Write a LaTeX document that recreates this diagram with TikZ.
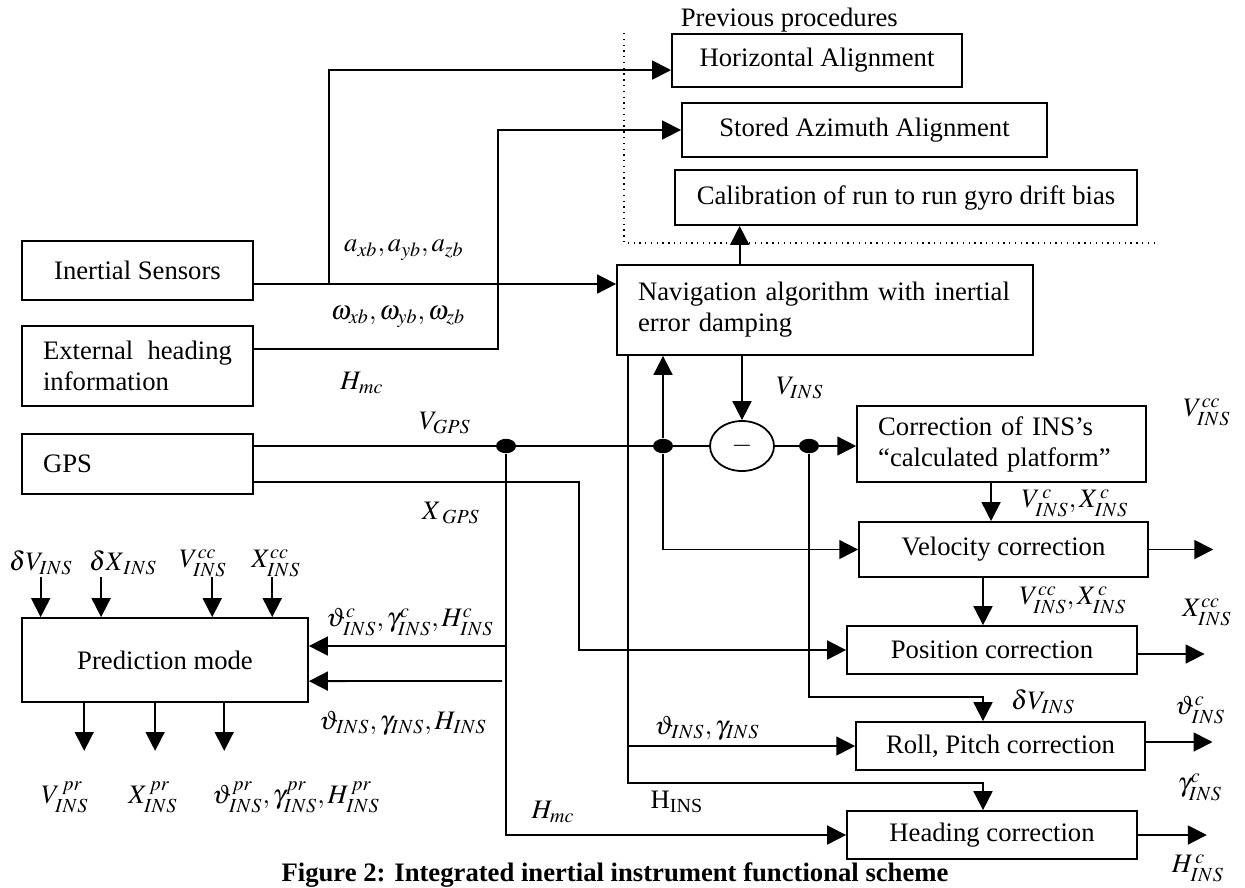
\documentclass[tikz,border=0pt]{standalone}
\usepackage{mathptmx}
\usepackage{fontspec}
\setmainfont{Liberation Serif}
\usetikzlibrary{arrows.meta,shapes.geometric}

\begin{document}
\begin{tikzpicture}[x=0.45pt,y=-0.45pt,
  every node/.style={font=\fontsize{12}{14}\selectfont},
  block/.style={draw,line width=0.8pt,inner sep=0pt,align=center},
  flow/.style={line width=0.8pt,-{Triangle[length=8.5pt,width=8.5pt]}},
  wire/.style={line width=0.8pt},
  dot/.style={ellipse,fill,minimum width=9pt,minimum height=6.5pt,inner sep=0pt}]
\useasboundingbox (0,0) rectangle (1245,887);

\node[block,minimum width=104pt,minimum height=26.6pt] (ins) at (137.5,270.5) {Inertial Sensors};
\node[block,minimum width=104pt,minimum height=36pt,text width=85pt,align=left] (ext) at (137.5,366) {External\hfill heading\\information};
\node[block,minimum width=104pt,minimum height=27pt,text width=85pt,align=left] (gps) at (137.5,464) {GPS};
\node[block,minimum width=128.7pt,minimum height=37.8pt] (pred) at (165,660) {Prediction mode};

\node[block,minimum width=130.5pt,minimum height=23.9pt] (ha) at (817,60.5) {Horizontal Alignment};
\node[block,minimum width=164.3pt,minimum height=24.3pt] (sa) at (864.5,130) {Stored Azimuth Alignment};
\node[block,minimum width=207.9pt,minimum height=24.8pt] (cal) at (906,197.5) {Calibration of run to run gyro drift bias};
\node[block,minimum width=187.2pt,minimum height=40.5pt,text width=168.2pt,align=left] (nav) at (825,310) {Navigation algorithm with inertial\\error damping};

\node[block,ellipse,minimum width=28.8pt,minimum height=22.5pt] (sub) at (742,446) {$-$};
\node[block,minimum width=130pt,minimum height=34.2pt,text width=111pt,align=left] (corr) at (1001.5,444) {Correction of INS’s\\“calculated platform”};
\node[block,minimum width=130pt,minimum height=24.8pt] (vel) at (1003.5,549.5) {Velocity correction};
\node[block,minimum width=130.5pt,minimum height=21.6pt] (pos) at (992,650) {Position correction};
\node[block,minimum width=130pt,minimum height=21.6pt] (roll) at (1000.5,746) {Roll, Pitch correction};
\node[block,minimum width=130.5pt,minimum height=21.6pt] (head) at (992,835) {Heading correction};

\node[dot] (dot1) at (506,446) {};
\node[dot] (dot2) at (663,446) {};
\node[dot] (dot3) at (809,446) {};

\coordinate (tapA) at (329,284);
\coordinate (tapB) at (498,349);
\coordinate (tapC) at (579,482);
\coordinate (navL) at ([xshift=5.4pt]nav.south west);
\coordinate (calin) at ([xshift=-38.4pt]nav.north);
\coordinate (cv) at ([xshift=-4.7pt]corr.south);
\coordinate (rbend) at (983,697);
\coordinate (hbend) at (983,783);
\coordinate (pin1) at ([yshift=6.3pt]pred.east);
\coordinate (pin2) at ([yshift=-9.5pt]pred.east);
\coordinate (pin2e) at (502,681);

\draw[dotted,line width=0.6pt] (624,33) -- (624,243) -- (1159,243);
\node[anchor=west] (prev) at (673,20) {Previous procedures};

\draw[flow] (ins.east |- tapA) -- (nav.west |- tapA);
\draw[flow] (tapA) |- ([yshift=-4.3pt]ha.west);
\draw[flow] (ext.east |- tapB) -- (tapB) |- (sa.west);
\draw[flow] (calin) -- (calin |- cal.south);

\draw[wire] (gps.east |- dot1) -- (sub.west);
\draw[flow] (sub.east) -- (corr.west |- sub.east);
\draw[flow] (sub.north |- nav.south) -- (sub.north);
\draw[flow] (dot2) -- (dot2 |- nav.south);
\draw[flow] (dot2) |- (vel.west);
\draw[flow] (cv) -- (cv |- vel.north);
\draw[flow] (gps.east |- tapC) -- (tapC) |- (pos.west);
\draw[flow] (dot1) |- (head.west);
\draw[flow] (pin1 -| dot1) -- (pin1);
\draw[flow] (pin2e) -- (pin2);
\draw[flow] (navL) |- (roll.west);
\draw[flow] (navL) |- (hbend) -- (hbend |- head.north);
\draw[flow] (dot3) |- (rbend) -- (rbend |- roll.north);
\draw[flow] (rbend |- vel.south) -- (rbend |- pos.north);

\draw[flow] (vel.east) -- ++(29pt,0);
\draw[flow] ([yshift=-1.8pt]pos.east) -- ++(30pt,0);
\draw[flow] ([yshift=1.8pt]roll.east) -- ++(30pt,0);
\draw[flow] (head.east) -- ++(31pt,0);

\draw[flow] ([xshift=8.8pt,yshift=18pt]pred.north west) -- ([xshift=8.8pt]pred.north west);
\draw[flow] ([xshift=36pt,yshift=18pt]pred.north west) -- ([xshift=36pt]pred.north west);
\draw[flow] ([xshift=86pt,yshift=18pt]pred.north west) -- ([xshift=86pt]pred.north west);
\draw[flow] ([xshift=113pt,yshift=18pt]pred.north west) -- ([xshift=113pt]pred.north west);
\draw[flow] ([xshift=28.4pt]pred.south west) -- ++(0,-21.6pt);
\draw[flow] ([xshift=60.3pt]pred.south west) -- ++(0,-21.6pt);
\draw[flow] ([xshift=91.4pt]pred.south west) -- ++(0,-21.6pt);

\node (lacc) at (404,250) {$a_{xb},a_{yb},a_{zb}$};
\node (lomg) at (398,317) {$\omega_{xb},\omega_{yb},\omega_{zb}$};
\node (lhmc) at (362,383) {$H_{mc}$};
\node (lvgps) at (445,423) {$V_{GPS}$};
\node (lxgps) at (451,513) {$X_{\;GPS}$};
\node (lvins) at (800,388) {$V_{INS}$};
\node (lvcc) at (1207,412) {$V_{INS}^{cc}$};
\node (lvxc) at (1075,503) {$V_{INS}^{\,c},X_{INS}^{\,c}$};
\node (lvxcc) at (1073,600) {$V_{INS}^{cc},X_{INS}^{\,c}$};
\node (lxcc) at (1207,612) {$X_{INS}^{cc}$};
\node (ldv) at (1043,702) {$\delta V_{INS}$};
\node (lthc) at (1200,710) {$\vartheta_{INS}^{c}$};
\node (lthg) at (707,728) {$\vartheta_{INS},\gamma_{INS}$};
\node (lgc) at (1200,787) {$\gamma_{INS}^{c}$};
\node (lhins) at (677,802) {H\textsubscript{INS}};
\node (lhmc2) at (553,812) {$H_{mc}$};
\node (lhc) at (1198,868) {$H_{INS}^{\,c}$};
\node (lthgc) at (410,622) {$\vartheta_{INS}^{c},\gamma_{INS}^{c},H_{INS}^{c}$};
\node (lthgh) at (403,723) {$\vartheta_{INS},\gamma_{INS},H_{INS}$};
\node (ldvp) at (41,563) {$\delta V_{INS}$};
\node (ldxp) at (123,563) {$\delta X_{\,INS}$};
\node (lvccp) at (203,563) {$V_{INS}^{cc}$};
\node (lxccp) at (276,563) {$X_{INS}^{cc}$};
\node (lvpr) at (65,797) {$V_{INS}^{\,pr}$};
\node (lxpr) at (153,797) {$X_{INS}^{\,pr}$};
\node (lthpr) at (296,797) {$\vartheta_{INS}^{pr},\gamma_{INS}^{pr},H_{INS}^{\,pr}$};

\node[anchor=base] (capt) at (615,881) {\textbf{Figure 2: Integrated inertial instrument functional scheme}};
\end{tikzpicture}
\end{document}
